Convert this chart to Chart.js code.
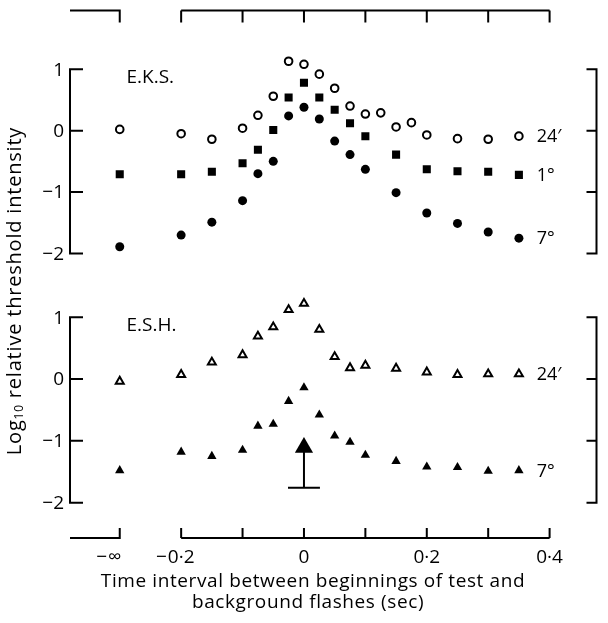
<!DOCTYPE html>
<html>
<head>
<meta charset="utf-8">
<script src="https://cdn.jsdelivr.net/npm/chart.js@4.4.1/dist/chart.umd.min.js"></script>
<style>
  html, body { margin: 0; padding: 0; background: #fff; }
  #wrap { position: relative; width: 608px; height: 623px; }
</style>
</head>
<body>
<div id="wrap"><canvas id="chart" width="608" height="623"></canvas></div>
<script>
// -inf is drawn at t = -0.3 on the broken time axis
const NEG_INF = -0.3;

// E.K.S. (top panel)
const xEks24 = [NEG_INF, -0.2, -0.15, -0.1, -0.075, -0.05, -0.025, 0, 0.025, 0.05, 0.075, 0.1, 0.125, 0.15, 0.175, 0.2, 0.25, 0.3, 0.35];
const eks24 = [0.02, -0.05, -0.14, 0.04, 0.25, 0.56, 1.13, 1.08, 0.92, 0.69, 0.40, 0.27, 0.29, 0.06, 0.13, -0.07, -0.13, -0.14, -0.09];
const xMain = [NEG_INF, -0.2, -0.15, -0.1, -0.075, -0.05, -0.025, 0, 0.025, 0.05, 0.075, 0.1, 0.15, 0.2, 0.25, 0.3, 0.35];
const eks1 = [-0.71, -0.71, -0.67, -0.53, -0.31, 0.01, 0.54, 0.78, 0.54, 0.34, 0.12, -0.09, -0.39, -0.63, -0.66, -0.67, -0.72];
const eks7 = [-1.89, -1.70, -1.49, -1.14, -0.70, -0.50, 0.24, 0.38, 0.19, -0.17, -0.39, -0.63, -1.01, -1.34, -1.51, -1.65, -1.75];

// E.S.H. (bottom panel)
const esh24 = [-0.04, 0.07, 0.27, 0.39, 0.69, 0.84, 1.12, 1.22, 0.80, 0.36, 0.18, 0.22, 0.17, 0.11, 0.07, 0.08, 0.08];
const esh7 = [-1.48, -1.18, -1.25, -1.15, -0.76, -0.73, -0.36, -0.14, -0.58, -0.92, -1.02, -1.23, -1.33, -1.42, -1.43, -1.49, -1.48];
// the large triangle at t = 0 with its bar
const bigX = [0];
const bigY = [-1.11];
const barLow = -1.76;
const capHalf = 0.026;

// axes
const xTicks = [-0.2, -0.1, 0, 0.1, 0.2, 0.3, 0.4];
const xLabelVals = [NEG_INF, -0.2, 0, 0.2, 0.4];
const xLabels = ["−∞", "−0·2", "0", "0·2", "0·4"];
const yTicks = [1, 0, -1, -2];
const yLabels = ["1", "0", "−1", "−2"];
const eksNames = ["24′", "1°", "7°"];
const eshNames = ["24′", "7°"];

const FONT = "'Open Sans', Lato, sans-serif";

const pts = (xs, ys) => xs.map((x, i) => ({ x: x, y: ys[i] }));

const axesPlugin = {
  id: "axes",
  afterDraw(chart) {
    const ctx = chart.ctx;
    const a = chart.chartArea;
    const x = chart.scales.x;
    const yTop = chart.scales.yTop;
    const yBot = chart.scales.yBot;
    ctx.save();
    ctx.strokeStyle = "#000";
    ctx.fillStyle = "#000";
    ctx.lineWidth = 2;
    ctx.lineCap = "butt";

    // broken time axes, top and bottom
    [[a.top, 12], [a.bottom, -10]].forEach(([yy, len]) => {
      const pInf = x.getPixelForValue(NEG_INF);
      const p0 = x.getPixelForValue(xTicks[0]);
      const p1 = x.getPixelForValue(xTicks[xTicks.length - 1]);
      ctx.beginPath();
      ctx.moveTo(a.left, yy);
      ctx.lineTo(pInf, yy);
      ctx.lineTo(pInf, yy + len);
      ctx.moveTo(p0, yy);
      ctx.lineTo(p1, yy);
      xTicks.forEach((t) => {
        const px = x.getPixelForValue(t);
        ctx.moveTo(px, yy);
        ctx.lineTo(px, yy + len);
      });
      ctx.stroke();
    });

    // x tick labels: number centred on tick, minus sign hanging left
    ctx.font = "19px " + FONT;
    ctx.textBaseline = "middle";
    xLabelVals.forEach((v, i) => {
      const px = x.getPixelForValue(v);
      let txt = xLabels[i];
      let neg = txt.startsWith("−");
      if (neg) txt = txt.slice(1);
      const w = ctx.measureText(txt).width;
      const shift = v === NEG_INF ? -5 : 0;
      ctx.textAlign = "left";
      ctx.fillText(txt, px - w / 2 + shift, a.bottom + 20);
      if (neg) {
        ctx.textAlign = "right";
        ctx.fillText("−", px - w / 2 + shift - 1, a.bottom + 20);
      }
    });

    // y axes: brackets on both sides of each panel
    [yTop, yBot].forEach((s) => {
      const top = s.getPixelForValue(yTicks[0]);
      const bot = s.getPixelForValue(yTicks[yTicks.length - 1]);
      ctx.beginPath();
      ctx.moveTo(a.left, top);
      ctx.lineTo(a.left, bot);
      ctx.moveTo(a.right - 1, top);
      ctx.lineTo(a.right - 1, bot);
      yTicks.forEach((t) => {
        const py = s.getPixelForValue(t);
        ctx.moveTo(a.left - 1, py);
        ctx.lineTo(a.left + 13, py);
        ctx.moveTo(a.right, py);
        ctx.lineTo(a.right - 11, py);
      });
      ctx.stroke();
      ctx.textAlign = "right";
      yTicks.forEach((t, i) => {
        ctx.fillText(yLabels[i], a.left - 6, s.getPixelForValue(t) + 1);
      });
    });

    // panel names
    ctx.textAlign = "left";
    ctx.fillText("E.K.S.", x.getPixelForValue(-0.289), yTop.getPixelForValue(0.87));
    ctx.fillText("E.S.H.", x.getPixelForValue(-0.289), yBot.getPixelForValue(0.86));

    // series names at the right end
    ctx.font = "18px " + FONT;
    const lx = x.getPixelForValue(0.379);
    [eks24, eks1, eks7].forEach((ys, i) => {
      ctx.fillText(eksNames[i], lx, yTop.getPixelForValue(ys[ys.length - 1]) + 1);
    });
    [esh24, esh7].forEach((ys, i) => {
      ctx.fillText(eshNames[i], lx, yBot.getPixelForValue(ys[ys.length - 1]) + 1);
    });

    // x title
    ctx.font = "19px " + FONT;
    ctx.letterSpacing = "0.6px";
    ctx.textAlign = "center";
    ctx.fillText("Time interval between beginnings of test and", 313, 582);
    ctx.fillText("background flashes (sec)", 308, 603);

    // y title with subscript
    ctx.save();
    ctx.translate(15, 291);
    ctx.rotate(-Math.PI / 2);
    ctx.textAlign = "left";
    ctx.letterSpacing = "0.8px";
    const p1 = "Log", sub = "10", p2 = " relative threshold intensity";
    ctx.font = "20px " + FONT;
    const w1 = ctx.measureText(p1).width;
    const w2 = ctx.measureText(p2).width;
    ctx.font = "12px " + FONT;
    const ws = ctx.measureText(sub).width;
    let sx = -(w1 + ws + w2) / 2;
    ctx.font = "20px " + FONT;
    ctx.fillText(p1, sx, 0);
    ctx.font = "12px " + FONT;
    ctx.fillText(sub, sx + w1, 5);
    ctx.font = "20px " + FONT;
    ctx.fillText(p2, sx + w1 + ws, 0);
    ctx.restore();

    ctx.restore();
  },
};

const openCircle = { pointStyle: "circle", pointRadius: 3.8, borderWidth: 2, backgroundColor: "#fff", borderColor: "#000" };
const fillCircle = { pointStyle: "circle", pointRadius: 4.5, borderWidth: 0, backgroundColor: "#000", borderColor: "#000" };
const fillSquare = { pointStyle: "rect", pointRadius: 5.7, borderWidth: 0, backgroundColor: "#000", borderColor: "#000" };
const openTri = { pointStyle: "triangle", pointRadius: 4.6, borderWidth: 2, backgroundColor: "#fff", borderColor: "#000" };
const fillTri = { pointStyle: "triangle", pointRadius: 5.4, borderWidth: 0, backgroundColor: "#000", borderColor: "#000" };

new Chart(document.getElementById("chart"), {
  type: "scatter",
  data: {
    datasets: [
      Object.assign({ label: "E.K.S. 24′", data: pts(xEks24, eks24), yAxisID: "yTop" }, openCircle),
      Object.assign({ label: "E.K.S. 1°", data: pts(xMain, eks1), yAxisID: "yTop" }, fillSquare),
      Object.assign({ label: "E.K.S. 7°", data: pts(xMain, eks7), yAxisID: "yTop" }, fillCircle),
      Object.assign({ label: "E.S.H. 24′", data: pts(xMain, esh24), yAxisID: "yBot" }, openTri),
      Object.assign({ label: "E.S.H. 7°", data: pts(xMain, esh7), yAxisID: "yBot" }, fillTri),
      {
        label: "bar",
        data: [{ x: bigX[0], y: bigY[0] }, { x: bigX[0], y: barLow }],
        yAxisID: "yBot", showLine: true, pointRadius: 0, borderColor: "#000", borderWidth: 2,
      },
      {
        label: "cap",
        data: [{ x: bigX[0] - capHalf, y: barLow }, { x: bigX[0] + capHalf, y: barLow }],
        yAxisID: "yBot", showLine: true, pointRadius: 0, borderColor: "#000", borderWidth: 2,
      },
      Object.assign({ label: "big", data: pts(bigX, bigY), yAxisID: "yBot" }, fillTri, { pointRadius: 10.5 }),
    ],
  },
  options: {
    responsive: false,
    animation: false,
    devicePixelRatio: 1,
    layout: { padding: { left: 70, right: 1, top: 9, bottom: 85 } },
    plugins: { legend: { display: false }, tooltip: { enabled: false }, title: { display: false } },
    scales: {
      x: { type: "linear", min: -0.381, max: 0.478, display: false },
      yTop: { axis: "y", type: "linear", min: -6.632, max: 1.956, display: false },
      yBot: { axis: "y", type: "linear", min: -2.572, max: 5.96, display: false },
    },
  },
  plugins: [axesPlugin],
});
</script>
</body>
</html>
